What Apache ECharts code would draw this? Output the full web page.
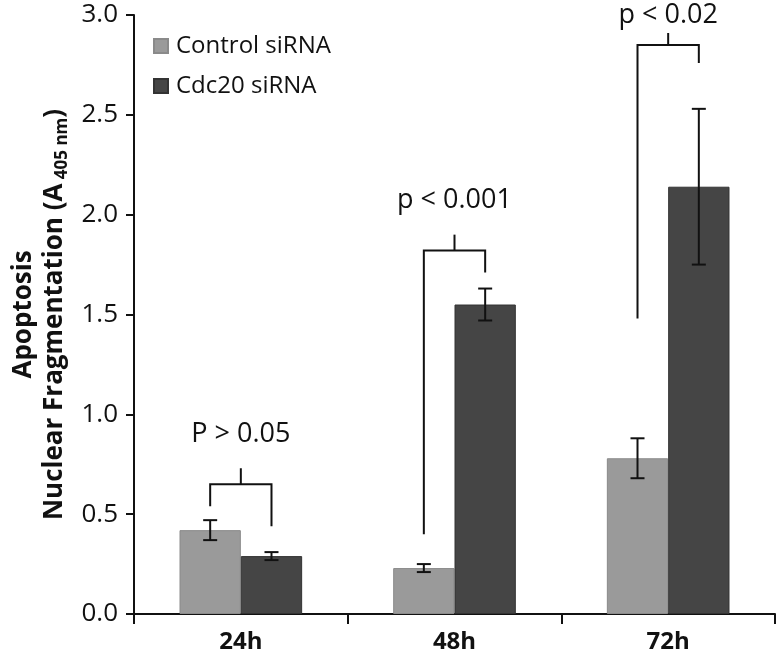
<!DOCTYPE html>
<html>
<head>
<meta charset="utf-8">
<script src="https://cdn.jsdelivr.net/npm/echarts@6/dist/echarts.min.js"></script>
<style>
  html, body { margin: 0; padding: 0; background: #fff; }
  #main { width: 781px; height: 669px; }
</style>
</head>
<body>
<div id="main"></div>
<script>
var categories = ['24h', '48h', '72h']
var controlMean = [0.42, 0.23, 0.78]
var controlErr = [0.05, 0.02, 0.10]
var cdc20Mean = [0.29, 1.55, 2.14]
var cdc20Err = [0.02, 0.08, 0.39]
var yTicks = [0, 0.5, 1.0, 1.5, 2.0, 2.5, 3.0]

// significance brackets
var pLabels = ['P > 0.05', 'p < 0.001', 'p < 0.02']
var bracketLeftBottom = [0.54, 0.40, 1.48]
var bracketRightBottom = [0.44, 1.71, 2.76]
var bracketTop = [0.65, 1.82, 2.85]
var bracketTickTop = [0.73, 1.90, 2.91]
var pLabelY = [0.90, 2.07, 3.00]

var BAR_FRAC = 0.287
var FONT = 'Open Sans'

function errorData (mean, err) {
  return mean.map(function (m, i) { return [i, m - err[i], m + err[i]] })
}

function errRender (offset) {
  return function (params, api) {
    var i = api.value(0)
    var lo = api.coord([i, api.value(1)])
    var hi = api.coord([i, api.value(2)])
    var bw = api.size([1, 0])[0]
    var x = lo[0] + offset * bw
    var cap = 7
    var st = { stroke: '#111', lineWidth: 2 }
    return {
      type: 'group',
      children: [
        { type: 'line', shape: { x1: x, y1: lo[1], x2: x, y2: hi[1] }, style: st },
        { type: 'line', shape: { x1: x - cap, y1: lo[1], x2: x + cap, y2: lo[1] }, style: st },
        { type: 'line', shape: { x1: x - cap, y1: hi[1], x2: x + cap, y2: hi[1] }, style: st }
      ]
    }
  }
}

var bracketData = categories.map(function (c, i) {
  return [i, bracketLeftBottom[i], bracketRightBottom[i], bracketTop[i], bracketTickTop[i], pLabelY[i]]
})

function bracketRender (params, api) {
  var i = api.value(0)
  var bw = api.size([1, 0])[0]
  var c = api.coord([i, 0])[0]
  var xl = c - BAR_FRAC / 2 * bw
  var xr = c + BAR_FRAC / 2 * bw
  var yl = api.coord([i, api.value(1)])[1]
  var yr = api.coord([i, api.value(2)])[1]
  var yt = api.coord([i, api.value(3)])[1]
  var yk = api.coord([i, api.value(4)])[1]
  var yLab = api.coord([i, api.value(5)])[1]
  return {
    type: 'group',
    children: [
      {
        type: 'polyline',
        shape: { points: [[xl, yl], [xl, yt], [xr, yt], [xr, yr]] },
        style: { stroke: '#111', lineWidth: 2, fill: null }
      },
      { type: 'line', shape: { x1: c, y1: yt, x2: c, y2: yk }, style: { stroke: '#111', lineWidth: 2 } },
      {
        type: 'text',
        style: {
          text: pLabels[i], x: c, y: yLab, align: 'center', verticalAlign: 'middle',
          fontSize: 27, fontFamily: FONT, fill: '#111'
        }
      }
    ]
  }
}

var chart = echarts.init(document.getElementById('main'))
chart.setOption({
  animation: false,
  backgroundColor: '#fff',
  grid: { left: 134, right: 6, top: 15, bottom: 55, containLabel: false, outerBoundsMode: 'none' },
  legend: {
    orient: 'vertical',
    left: 148,
    top: 29,
    icon: 'rect',
    itemWidth: 14,
    itemHeight: 14,
    itemGap: 16,
    data: ['Control siRNA', 'Cdc20 siRNA'],
    textStyle: { fontSize: 24, fontFamily: FONT, color: '#111', padding: [0, 0, 0, 3] }
  },
  xAxis: {
    type: 'category',
    data: categories,
    axisLine: { lineStyle: { color: '#111', width: 2 } },
    axisTick: { show: true, length: 10, lineStyle: { color: '#111', width: 2 } },
    axisLabel: { fontSize: 24, fontWeight: 'bold', fontFamily: FONT, color: '#111', margin: 16 }
  },
  yAxis: {
    type: 'value',
    min: 0,
    max: 3,
    interval: 0.5,
    splitLine: { show: false },
    axisLine: { show: true, lineStyle: { color: '#111', width: 2 } },
    axisTick: { show: true, length: 8, lineStyle: { color: '#111', width: 2 } },
    axisLabel: {
      fontSize: 26, fontFamily: FONT, color: '#111', margin: 16,
      formatter: function (v) { return yTicks.indexOf(v) >= 0 ? v.toFixed(1) : '' }
    },
    name: '{a|Apoptosis}\n{a|Nuclear Fragmentation (A}{s| 405 nm}{a|)}',
    nameLocation: 'middle',
    nameRotate: 90,
    nameGap: 50,
    nameTextStyle: {
      rich: {
        a: { fontSize: 26, fontWeight: 'bold', fontFamily: FONT, color: '#111', lineHeight: 31 },
        s: { fontSize: 17, fontWeight: 'bold', fontFamily: FONT, color: '#111', verticalAlign: 'bottom', lineHeight: 31 }
      }
    }
  },
  series: [
    {
      name: 'Control siRNA',
      type: 'bar',
      data: controlMean,
      barWidth: (BAR_FRAC * 100) + '%',
      barGap: '0%',
      itemStyle: { color: '#9a9a9a', borderColor: '#8a8a8a', borderWidth: 1 }
    },
    {
      name: 'Cdc20 siRNA',
      type: 'bar',
      data: cdc20Mean,
      barWidth: (BAR_FRAC * 100) + '%',
      barGap: '0%',
      itemStyle: { color: '#454545', borderColor: '#333', borderWidth: 1 }
    },
    {
      type: 'custom',
      renderItem: errRender(-BAR_FRAC / 2),
      data: errorData(controlMean, controlErr),
      encode: { x: 0, y: [1, 2] },
      z: 5
    },
    {
      type: 'custom',
      renderItem: errRender(BAR_FRAC / 2),
      data: errorData(cdc20Mean, cdc20Err),
      encode: { x: 0, y: [1, 2] },
      z: 5
    },
    {
      type: 'custom',
      renderItem: bracketRender,
      data: bracketData,
      encode: { x: 0, y: [1, 2, 3, 4, 5] },
      clip: false,
      z: 5
    }
  ]
})
</script>
</body>
</html>
